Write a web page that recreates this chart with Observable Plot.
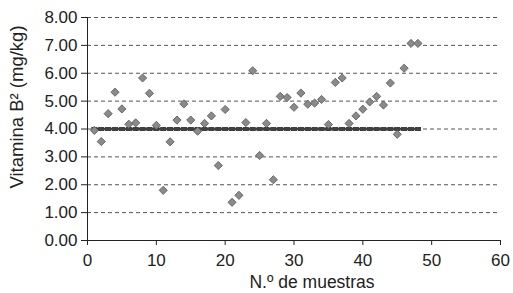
<!DOCTYPE html>
<html>
<head>
<meta charset="utf-8">
<script src="https://cdn.jsdelivr.net/npm/d3@7"></script>
<script src="https://cdn.jsdelivr.net/npm/@observablehq/plot@0.6"></script>
<style>
  html, body { margin: 0; padding: 0; background: #fff; }
</style>
</head>
<body>
<div id="chart"></div>
<script>
const muestras = d3.range(1, 49);
const vitamina = [
  3.95, 3.55, 4.55, 5.32, 4.72, 4.17, 4.22, 5.83, 5.28, 4.13,
  1.80, 3.54, 4.32, 4.90, 4.32, 3.92, 4.20, 4.47, 2.69, 4.70,
  1.37, 1.62, 4.23, 6.09, 3.05, 4.20, 2.18, 5.17, 5.13, 4.78,
  5.29, 4.89, 4.93, 5.06, 4.16, 5.67, 5.83, 4.20, 4.47, 4.71,
  4.97, 5.17, 4.86, 5.65, 3.81, 6.18, 7.07, 7.07
];
const referencia = muestras.map(() => 4.0);
const yTicks = [0, 1, 2, 3, 4, 5, 6, 7, 8];
const xTicks = [0, 10, 20, 30, 40, 50, 60];
const gridTicks = [1, 2, 3, 4, 5, 6, 7, 8];
const xTitle = "N.º de muestras";
const yTitle = "Vitamina B² (mg/kg)";

const puntos = muestras.map((m, i) => ({m, v: vitamina[i]}));
const linea = muestras.map((m, i) => ({m, v: referencia[i]}));

const barSymbol = {
  draw(ctx) { ctx.rect(-3.1, -2, 6.2, 4); }
};

const font = "'Liberation Sans', Arial, sans-serif";

const chart = Plot.plot({
  width: 513,
  height: 293,
  marginLeft: 87,
  marginRight: 13,
  marginTop: 17,
  marginBottom: 53,
  style: {fontFamily: font, fontSize: "17px", color: "#222", background: "#fff"},
  x: {domain: [0, 60]},
  y: {domain: [0, 8]},
  marks: [
    Plot.ruleY(gridTicks, {stroke: "#555", strokeWidth: 1, strokeDasharray: "4,3"}),
    Plot.line(linea, {x: "m", y: "v", stroke: "#404040", strokeWidth: 2}),
    Plot.dot(linea, {x: "m", y: "v", symbol: barSymbol, fill: "#404040", stroke: "none"}),
    Plot.dot(puntos, {x: "m", y: "v", symbol: "diamond2", r: 3.7, fill: "#8a8a8a", stroke: "#555", strokeWidth: 0.8}),
    Plot.ruleY([0], {stroke: "#222", strokeWidth: 1}),
    Plot.ruleX([0], {stroke: "#222", strokeWidth: 1}),
    Plot.axisY(yTicks, {tickFormat: d => d.toFixed(2), tickSize: 6, tickPadding: 4, stroke: "#222",
      fontSize: 17, fill: "#222", label: null}),
    Plot.axisX(xTicks, {tickSize: 5, tickPadding: 8, stroke: "#222",
      fontSize: 17, fill: "#222", label: null}),
    Plot.text([xTitle], {text: d => d, frameAnchor: "bottom", dy: 47, dx: 18, fontSize: 17.5, fill: "#222"}),
    Plot.text([yTitle], {text: d => d, frameAnchor: "left", textAnchor: "middle", dx: -70, dy: -22,
      rotate: -90, fontSize: 18.5, fill: "#222"})
  ]
});
document.getElementById("chart").appendChild(chart);
</script>
</body>
</html>
